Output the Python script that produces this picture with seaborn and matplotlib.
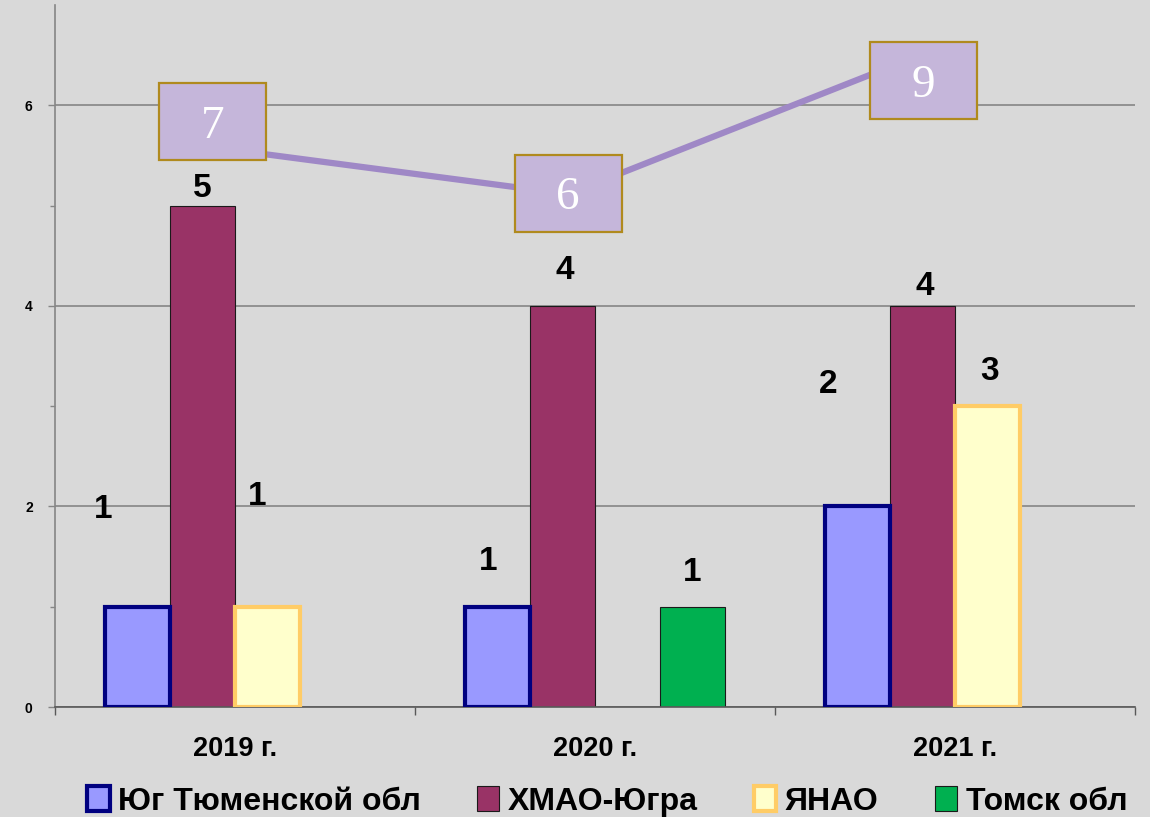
import numpy as np
import pandas as pd
import matplotlib
matplotlib.use('Agg')
import matplotlib.pyplot as plt
import seaborn as sns
from matplotlib.patches import Rectangle, Patch
from matplotlib.offsetbox import AnnotationBbox, DrawingArea
from matplotlib.text import Text
from matplotlib.ticker import FixedLocator

# ---------------- data ----------------
years = ['2019 г.', '2020 г.', '2021 г.']
regions = ['Юг Тюменской обл', 'ХМАО-Югра', 'ЯНАО', 'Томск обл']
yug = [1, 1, 2]
hmao = [5, 4, 4]
yanao = [1, np.nan, 3]
tomsk = [np.nan, 1, np.nan]
totals = [7, 6, 9]
y_ticks = [0, 2, 4, 6]

# ---------------- style ----------------
sns.set_theme(style='white')
plt.rcParams['font.family'] = ['Liberation Sans', 'DejaVu Sans']
plt.rcParams['text.color'] = 'black'
plt.rcParams['xtick.labelcolor'] = 'black'
plt.rcParams['ytick.labelcolor'] = 'black'

BG = '#d9d9d9'
fills = ['#9999ff', '#993366', '#ffffcc', '#00b050']
edges = ['#000080', '#1a1a1a', '#ffcc66', '#1a1a1a']
lws = [3.0, 0.8, 3.0, 0.8]
zords = [3, 2, 3, 2]

# value-label offsets in pixels (dx, dy up) keyed by (region idx, year idx)
label_off = {(0, 0): (-35, 97), (1, 0): (0, 17), (2, 0): (-10, 110),
             (0, 1): (-10, 45), (1, 1): (2, 35), (3, 1): (0, 34),
             (0, 2): (-30, 122), (1, 2): (2, 19), (2, 2): (2, 35)}
# total-box offsets in pixels (dx, dy up)
box_off = [(5, 25), (0, 1), (-5, -29)]
PX = 0.72  # points per pixel at dpi 100

fig = plt.figure(figsize=(11.5, 8.17), dpi=100, facecolor=BG)
ax = fig.add_axes([0.0478, 0.1346, 0.9392, 0.8592])
ax.set_facecolor(BG)

series = [yug, hmao, yanao, tomsk]
rows = []
for r, vals in zip(regions, series):
    for y, v in zip(years, vals):
        if not np.isnan(v):
            rows.append({'year': y, 'region': r, 'value': v})
df = pd.DataFrame(rows)

sns.barplot(data=df, x='year', y='value', hue='region', order=years,
            hue_order=regions, palette=fills, width=0.72, gap=0,
            errorbar=None, saturation=1, legend=False, ax=ax)

bar_w = 0.72 / 4
for cont in ax.containers:
    for bar in cont:
        h = bar.get_height()
        if h is None or np.isnan(h):
            continue
        xc = bar.get_x() + bar.get_width() / 2
        yi = int(round(xc))
        ri = int(round((xc - yi + 0.36 - bar_w / 2) / bar_w))
        bar.set_edgecolor(edges[ri])
        bar.set_linewidth(lws[ri])
        bar.set_zorder(zords[ri])
        dx, dy = label_off.get((ri, yi), (0, 20))
        ax.annotate(f'{int(h)}', xy=(xc, h), xytext=(dx * PX, dy * PX),
                    textcoords='offset points', ha='center', va='center',
                    fontsize=24, fontweight='bold', color='black', zorder=5)

# axes styling
ax.set_ylim(0, 7)
ax.set_xlim(-0.5, 2.5)
ax.set_yticks(y_ticks)
ax.yaxis.set_minor_locator(FixedLocator([1, 3, 5]))
ax.tick_params(axis='y', which='both', direction='out', color='#868686',
               left=True, labelsize=10, pad=11, labelcolor='black')
ax.tick_params(axis='y', which='major', length=5, width=1)
ax.tick_params(axis='y', which='minor', length=3.5, width=1)
for t in ax.get_yticklabels():
    t.set_fontweight('bold')
ax.set_xticks([-0.5, 0.5, 1.5, 2.5], labels=['', '', '', ''])
ax.set_xticks([0, 1, 2], labels=years, minor=True)
ax.tick_params(axis='x', which='major', direction='out', length=6,
               color='#595959', bottom=True, width=1)
ax.tick_params(axis='x', which='minor', length=0, labelsize=19.5, pad=21,
               labelcolor='black')
for t in ax.get_xticklabels(minor=True):
    t.set_fontweight('bold')
ax.set_xlabel('')
ax.set_ylabel('')
ax.grid(axis='y', which='major', color='#868686', lw=1.2)
ax.set_axisbelow(True)
for s in ['top', 'right']:
    ax.spines[s].set_visible(False)
ax.spines['left'].set_color('#868686')
ax.spines['left'].set_linewidth(1.2)
ax.spines['bottom'].set_color('#595959')
ax.spines['bottom'].set_linewidth(1.2)

# totals line on secondary (hidden) axis
ax2 = ax.twinx()
ax2.set_ylim(-4.83, 9.99)
xpos = np.arange(len(years)) - 0.075
sns.lineplot(x=xpos, y=totals, ax=ax2, color='#9f88c6', linewidth=4.5,
             legend=False, zorder=3)
ax2.set_yticks([])
ax2.set_ylabel('')
for s in ax2.spines.values():
    s.set_visible(False)
ax2.set_xlim(-0.5, 2.5)

bw, bh = 107 * PX, 77 * PX
for i, v in enumerate(totals):
    da = DrawingArea(bw, bh, 0, 0, clip=False)
    da.add_artist(Rectangle((0, 0), bw, bh, facecolor='#c5b6da',
                            edgecolor='#b08a1e', linewidth=1.6))
    da.add_artist(Text(bw / 2, bh / 2, str(v), ha='center',
                       va='center_baseline', color='white', fontsize=34,
                       family='Liberation Serif'))
    dx, dy = box_off[i]
    ab = AnnotationBbox(da, (xpos[i], v), xycoords='data',
                        xybox=(dx * PX, dy * PX), boxcoords='offset points',
                        frameon=False, pad=0, box_alignment=(0.5, 0.5),
                        zorder=6)
    ax2.add_artist(ab)

# legend
handles = [Patch(facecolor=f, edgecolor=e, linewidth=lw)
           for f, e, lw in zip(fills, edges, lws)]
fig.legend(handles=handles, labels=regions, loc='center',
           bbox_to_anchor=(0.528, 0.019), ncol=4, frameon=False,
           prop=dict(weight='bold', size=23), handlelength=0.7,
           handleheight=0.8, handletextpad=0.27, columnspacing=1.75,
           borderpad=0, labelcolor='black')

fig.savefig('out.png', dpi=100, facecolor=BG)
